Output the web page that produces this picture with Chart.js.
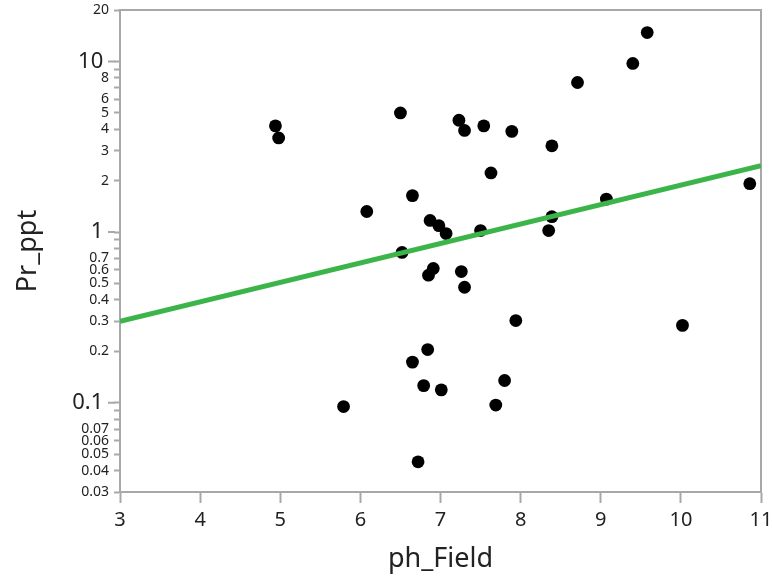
<!DOCTYPE html>
<html>
<head>
<meta charset="utf-8">
<script src="https://cdn.jsdelivr.net/npm/chart.js@4.4.1/dist/chart.umd.min.js"></script>
<style>
  html, body { margin: 0; padding: 0; background: #fff; }
</style>
</head>
<body>
<canvas id="phChart" width="772" height="582"></canvas>
<script>
// data
var phField = [4.94, 4.98, 5.79, 6.08, 6.50, 6.52, 6.65, 6.65, 6.72, 6.79,
               6.84, 6.87, 6.91, 6.85, 6.98, 7.01, 7.07, 7.23, 7.26, 7.30,
               7.30, 7.50, 7.54, 7.63, 7.69, 7.80, 7.89, 7.94, 8.35, 8.39,
               8.39, 8.71, 9.07, 9.40, 9.58, 10.02, 10.86];
var prPpt = [4.19, 3.56, 0.095, 1.32, 4.99, 0.76, 0.173, 1.635, 0.0451, 0.126,
             0.205, 1.17, 0.612, 0.559, 1.09, 0.119, 0.98, 4.52, 0.587, 3.94,
             0.475, 1.02, 4.19, 2.22, 0.0969, 0.135, 3.89, 0.303, 1.02, 3.2,
             1.23, 7.52, 1.56, 9.73, 14.75, 0.284, 1.92];

// fitted line (ends of the plot)
var fitX = [3, 11];
var fitY = [0.30, 2.45];

var yTickValues = [0.03, 0.04, 0.05, 0.06, 0.07, 0.08, 0.09,
                   0.1, 0.2, 0.3, 0.4, 0.5, 0.6, 0.7, 0.8, 0.9,
                   1, 2, 3, 4, 5, 6, 7, 8, 9, 10, 20];
var yTickLabels = ['0.03', '0.04', '0.05', '0.06', '0.07', '', '',
                   '0.1', '0.2', '0.3', '0.4', '0.5', '0.6', '0.7', '', '',
                   '1', '2', '3', '4', '5', '6', '', '8', '', '10', '20'];
var yMajor = [0.1, 1, 10];

var gray = '#a8a8a8';
var textColor = '#222';

Chart.defaults.font.family = "'Noto Sans', 'Open Sans', sans-serif";

function isMajor(v) {
    return yMajor.some(function(m) { return Math.abs(m - v) < 1e-9; });
}

var scatterPoints = phField.map(function(x, i) { return { x: x, y: prPpt[i] }; });
var fitPoints = fitX.map(function(x, i) { return { x: x, y: fitY[i] }; });

// top/right frame and the longer ticks at decades
var framePlugin = {
    id: 'frame',
    beforeDatasetsDraw: function(chart) {
        var ctx = chart.ctx, a = chart.chartArea, y = chart.scales.y;
        ctx.save();
        ctx.strokeStyle = gray;
        ctx.lineWidth = 2;
        ctx.beginPath();
        ctx.moveTo(a.left, a.top);
        ctx.lineTo(a.right, a.top);
        ctx.lineTo(a.right, a.bottom);
        yMajor.forEach(function(v) {
            var py = y.getPixelForValue(v);
            ctx.moveTo(a.left - 12, py);
            ctx.lineTo(a.left - 5, py);
        });
        ctx.stroke();
        ctx.restore();
    }
};

new Chart(document.getElementById('phChart'), {
    type: 'scatter',
    data: {
        datasets: [{
            label: 'fit',
            data: fitPoints,
            showLine: true,
            borderColor: '#3bb54a',
            borderWidth: 5,
            pointRadius: 0,
            fill: false,
            order: 0
        }, {
            label: 'Pr_ppt',
            data: scatterPoints,
            backgroundColor: '#000',
            borderWidth: 0,
            pointRadius: 6.4,
            order: 1
        }]
    },
    options: {
        responsive: false,
        devicePixelRatio: 1,
        animation: false,
        layout: { padding: { top: 10, right: 11, left: 0, bottom: 0 } },
        plugins: {
            legend: { display: false },
            tooltip: { enabled: false }
        },
        scales: {
            x: {
                type: 'linear',
                min: 3,
                max: 11,
                afterFit: function(scale) {
                    scale.height = 90;
                    scale.paddingLeft = 0;
                    scale.paddingRight = 0;
                },
                border: { color: gray, width: 2 },
                grid: { drawOnChartArea: false, tickLength: 11, tickColor: gray, tickWidth: 2 },
                ticks: { stepSize: 1, padding: 5, color: textColor, font: { size: 20 } },
                title: {
                    display: true,
                    text: 'ph_Field',
                    color: textColor,
                    font: { size: 27 },
                    padding: { top: 0, bottom: 6 }
                }
            },
            y: {
                type: 'logarithmic',
                min: 0.03,
                max: 20,
                afterBuildTicks: function(scale) {
                    scale.ticks = yTickValues.map(function(v) { return { value: v }; });
                },
                afterFit: function(scale) {
                    scale.width = 120;
                    scale.paddingTop = 0;
                    scale.paddingBottom = 0;
                },
                border: { color: gray, width: 2 },
                grid: { drawOnChartArea: false, tickLength: 6, tickColor: gray, tickWidth: 2 },
                ticks: {
                    autoSkip: false,
                    padding: 5,
                    color: textColor,
                    font: function(c) {
                        return { size: (c.tick && isMajor(c.tick.value)) ? 22 : 14 };
                    },
                    callback: function(value, index) {
                        var lbl = yTickLabels[index];
                        return isMajor(value) ? lbl + ' ' : lbl;
                    }
                },
                title: {
                    display: true,
                    text: 'Pr_ppt',
                    color: textColor,
                    font: { size: 27 },
                    padding: { top: 12, bottom: 0 }
                }
            }
        }
    },
    plugins: [framePlugin]
});
</script>
</body>
</html>
